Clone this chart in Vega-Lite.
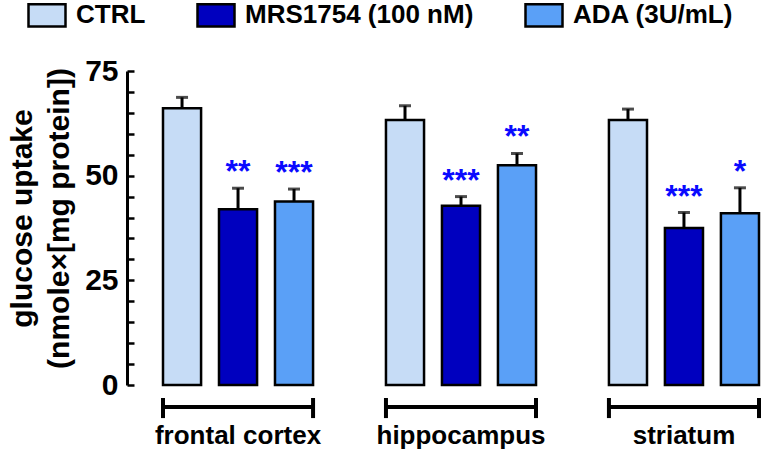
{
  "$schema": "https://vega.github.io/schema/vega-lite/v6.json",
  "width": 640,
  "height": 314,
  "autosize": {"type": "none"},
  "padding": {"left": 127, "top": 71, "right": 0, "bottom": 64},
  "background": "white",
  "config": {
    "view": {"stroke": null},
    "font": "Liberation Sans",
    "axis": {"ticks": true, "tickColor": "black", "tickWidth": 2.5, "tickOpacity": 1},
    "axisY": {
      "labelOverlap": false,
      "labelBound": false,
      "labelFlush": false,
      "domainWidth": 3,
      "domainColor": "black",
      "grid": false,
      "labelFontSize": 30,
      "labelFontWeight": "bold",
      "labelColor": "black",
      "titleFontSize": 30,
      "titleFontWeight": "bold",
      "titleColor": "black",
      "titleLineHeight": 37
    }
  },
  "data": {
    "values": [
      {"region": "frontal cortex", "treatment": "CTRL", "mean": 66.1, "upper": 68.7, "sig": ""},
      {"region": "frontal cortex", "treatment": "MRS1754 (100 nM)", "mean": 42.0, "upper": 47.0, "sig": "**"},
      {"region": "frontal cortex", "treatment": "ADA (3U/mL)", "mean": 43.8, "upper": 46.8, "sig": "***"},
      {"region": "hippocampus", "treatment": "CTRL", "mean": 63.3, "upper": 66.7, "sig": ""},
      {"region": "hippocampus", "treatment": "MRS1754 (100 nM)", "mean": 42.8, "upper": 45.0, "sig": "***"},
      {"region": "hippocampus", "treatment": "ADA (3U/mL)", "mean": 52.5, "upper": 55.3, "sig": "**"},
      {"region": "striatum", "treatment": "CTRL", "mean": 63.3, "upper": 65.9, "sig": ""},
      {"region": "striatum", "treatment": "MRS1754 (100 nM)", "mean": 37.5, "upper": 41.2, "sig": "***"},
      {"region": "striatum", "treatment": "ADA (3U/mL)", "mean": 41.0, "upper": 47.1, "sig": "*"}
    ]
  },
  "resolve": {"axis": {"y": "independent"}},
  "encoding": {
    "x": {
      "field": "region",
      "type": "nominal",
      "sort": ["frontal cortex", "hippocampus", "striatum"],
      "scale": {"paddingInner": 0.327, "paddingOuter": 0.0987, "align": 0.818},
      "axis": {
        "title": null,
        "domain": false,
        "ticks": false,
        "labelAngle": 0,
        "labelFontSize": 26,
        "labelFontWeight": "bold",
        "labelColor": "black",
        "labelBaseline": "top",
        "labelPadding": 37
      }
    }
  },
  "layer": [
    {
      "mark": {"type": "bar", "stroke": "black", "strokeWidth": 2.5},
      "encoding": {
        "xOffset": {
          "field": "treatment",
          "type": "nominal",
          "sort": ["CTRL", "MRS1754 (100 nM)", "ADA (3U/mL)"],
          "scale": {"paddingInner": 0.32, "paddingOuter": 0}
        },
        "y": {
          "field": "mean",
          "type": "quantitative",
          "scale": {"domain": [0, 75], "nice": false},
          "axis": {
            "orient": "left",
            "zindex": 1,
            "title": ["glucose uptake", "(nmole×[mg protein])"],
            "values": [0, 25, 50, 75],
            "ticks": false,
            "labelPadding": 9,
            "titlePadding": 10,
            "titleY": 147
          }
        },
        "fill": {
          "field": "treatment",
          "type": "nominal",
          "sort": ["CTRL", "MRS1754 (100 nM)", "ADA (3U/mL)"],
          "scale": {
            "domain": ["CTRL", "MRS1754 (100 nM)", "ADA (3U/mL)"],
            "range": ["#c6dcf6", "#0000bf", "#5aa0f7"]
          },
          "legend": {
            "orient": "none",
            "legendX": -100,
            "legendY": -76,
            "direction": "horizontal",
            "title": null,
            "padding": 0,
            "symbolType": "M-1,-0.6L1,-0.6L1,0.6L-1,0.6Z",
            "symbolSize": 1369,
            "symbolStrokeColor": "black",
            "symbolStrokeWidth": 2.5,
            "symbolOpacity": 1,
            "labelFontSize": 26,
            "labelFontWeight": "bold",
            "labelColor": "black",
            "labelOffset": 9,
            "labelLimit": 400,
            "columnPadding": 46
          }
        }
      }
    },
    {
      "mark": {"type": "rule", "color": "black", "strokeWidth": 3},
      "encoding": {
        "xOffset": {"field": "treatment", "type": "nominal", "sort": ["CTRL", "MRS1754 (100 nM)", "ADA (3U/mL)"]},
        "y": {
          "field": "mean",
          "type": "quantitative",
          "scale": {"domain": [0, 75], "nice": false},
          "axis": {
            "orient": "right",
            "offset": -640,
            "zindex": 1,
            "title": null,
            "domain": false,
            "labels": false,
            "ticks": true,
            "tickColor": "black",
            "tickOpacity": 1,
            "tickWidth": 2.5,
            "tickSize": 7,
            "values": [0, 5, 10, 15, 20, 25, 30, 35, 40, 45, 50, 55, 60, 65, 70, 75]
          }
        },
        "y2": {"field": "upper"}
      }
    },
    {
      "mark": {"type": "tick", "color": "black", "size": 12, "thickness": 3, "orient": "horizontal"},
      "encoding": {
        "xOffset": {"field": "treatment", "type": "nominal", "sort": ["CTRL", "MRS1754 (100 nM)", "ADA (3U/mL)"]},
        "y": {"field": "upper", "type": "quantitative", "scale": {"domain": [0, 75], "nice": false}, "axis": null}
      }
    },
    {
      "mark": {"type": "text", "color": "#0a0aff", "fontSize": 32, "fontWeight": "bold", "baseline": "alphabetic", "dy": -6},
      "encoding": {
        "xOffset": {"field": "treatment", "type": "nominal", "sort": ["CTRL", "MRS1754 (100 nM)", "ADA (3U/mL)"]},
        "y": {"field": "upper", "type": "quantitative", "scale": {"domain": [0, 75], "nice": false}, "axis": null},
        "text": {"field": "sig"}
      }
    },
    {
      "transform": [{"filter": "datum.treatment === 'CTRL'"}],
      "mark": {"type": "bar", "color": "black", "stroke": "black", "strokeWidth": 4},
      "encoding": {
        "y": {"datum": -5.25, "type": "quantitative", "scale": {"domain": [0, 75], "nice": false}, "axis": null},
        "y2": {"datum": -5.25}
      }
    },
    {
      "transform": [{"filter": "datum.treatment === 'CTRL'"}],
      "mark": {"type": "rule", "color": "black", "strokeWidth": 4},
      "encoding": {
        "x": {"field": "region", "type": "nominal", "bandPosition": 0},
        "y": {"datum": -3.1, "type": "quantitative", "scale": {"domain": [0, 75], "nice": false}, "axis": null},
        "y2": {"datum": -7.9}
      }
    },
    {
      "transform": [{"filter": "datum.treatment === 'CTRL'"}],
      "mark": {"type": "rule", "color": "black", "strokeWidth": 4},
      "encoding": {
        "x": {"field": "region", "type": "nominal", "bandPosition": 1},
        "y": {"datum": -3.1, "type": "quantitative", "scale": {"domain": [0, 75], "nice": false}, "axis": null},
        "y2": {"datum": -7.9}
      }
    }
  ]
}
